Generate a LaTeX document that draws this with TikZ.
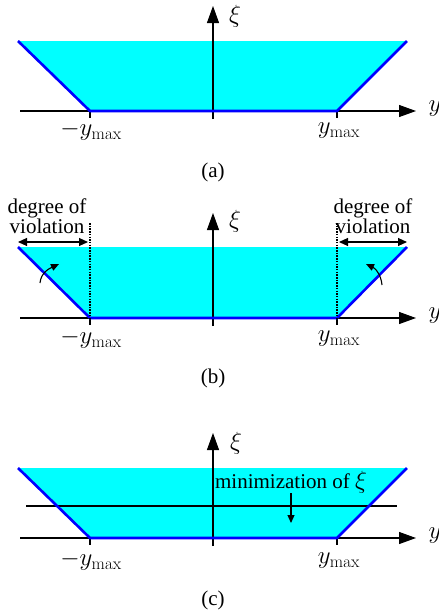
\documentclass[tikz,border=0pt]{standalone}
\usepackage[no-math]{fontspec}
\setmainfont{Liberation Serif}
\usetikzlibrary{arrows.meta}
\definecolor{aqua}{RGB}{0,255,255}
\begin{document}
\begin{tikzpicture}[x=1pt,y=-1pt,
  txt/.style={font=\fontsize{21}{17.5}\selectfont, inner sep=0pt},
  mth/.style={font=\fontsize{23.5}{20}\selectfont, inner sep=0pt},
  axis/.style={line width=1.1pt, -{Triangle[length=17pt,width=12pt]}},
  thin/.style={line width=1.1pt},
  region/.style={fill=aqua, draw=none},
  blueline/.style={draw=blue, line width=2.6pt, line join=miter},
  dots/.style={line width=2pt, dash pattern=on 1.5pt off 1.2pt},
  small/.style={line width=1.1pt, {Triangle[length=9pt,width=8pt]}-{Triangle[length=9pt,width=8pt]}},
  curv/.style={line width=1.1pt, -{Triangle[length=8pt,width=7pt]}}]
\useasboundingbox (0,0) rectangle (439,614);

% ---------- panel (a)
\begin{scope}[shift={(0,111)}]
  \coordinate (aL) at (18,-70); \coordinate (aBL) at (90,0);
  \coordinate (aBR) at (337,0); \coordinate (aR) at (407,-70);
  \coordinate (aX0) at (20,0); \coordinate (aX1) at (416,0);
  \coordinate (aY0) at (213,8); \coordinate (aY1) at (213,-105);
  \coordinate (aT1) at (90,7); \coordinate (aT2) at (337,7);
  \fill[region] (aL) -- (aBL) -- (aBR) -- (aR) -- cycle;
  \draw[axis] (aX0) -- (aX1);
  \draw[axis] (aY0) -- (aY1);
  \draw[thin] (aBL) -- (aT1);
  \draw[thin] (aBR) -- (aT2);
  \draw[blueline] (aL) -- (aBL) -- (aBR) -- (aR);
  \node[mth] (axi) at (235,-95) {$\xi$};
  \node[mth] (ay) at (435,-2) {$y$};
  \node[mth] (aml) at (91,20) {$-y_{\max}$};
  \node[mth] (amr) at (339,20) {$y_{\max}$};
  \node[txt] (acap) at (213,61) {(a)};
\end{scope}

% ---------- panel (b)
\begin{scope}[shift={(0,318)}]
  \coordinate (bL) at (18,-71); \coordinate (bBL) at (90,0);
  \coordinate (bBR) at (337,0); \coordinate (bR) at (407,-71);
  \coordinate (bX0) at (20,0); \coordinate (bX1) at (416,0);
  \coordinate (bY0) at (213,8); \coordinate (bY1) at (213,-105);
  \coordinate (bT1) at (90,7); \coordinate (bT2) at (337,7);
  \coordinate (bD1) at (90,-95); \coordinate (bD2) at (337,-95);
  \coordinate (bA1) at (18,-76); \coordinate (bA2) at (88,-76);
  \coordinate (bA3) at (339,-76); \coordinate (bA4) at (407,-76);
  \coordinate (bC1) at (40,-35); \coordinate (bC2) at (59,-54);
  \coordinate (bC3) at (382,-33); \coordinate (bC4) at (366,-54);
  \fill[region] (bL) -- (bBL) -- (bBR) -- (bR) -- cycle;
  \draw[axis] (bX0) -- (bX1);
  \draw[axis] (bY0) -- (bY1);
  \draw[thin] (bBL) -- (bT1);
  \draw[thin] (bBR) -- (bT2);
  \draw[blueline] (bL) -- (bBL) -- (bBR) -- (bR);
  \draw[dots] (bD1) -- (bBL);
  \draw[dots] (bD2) -- (bBR);
  \draw[small] (bA1) -- (bA2);
  \draw[small] (bA3) -- (bA4);
  \draw[curv] (bC1) to[out=85,in=205] (bC2);
  \draw[curv] (bC3) to[out=95,in=-25] (bC4);
  \node[txt, align=center] (bdl) at (47,-102) {degree of\\violation};
  \node[txt, align=center] (bdr) at (373,-102) {degree of\\violation};
  \node[mth] (bxi) at (235,-97) {$\xi$};
  \node[mth] (by) at (435,-2) {$y$};
  \node[mth] (bml) at (91,21) {$-y_{\max}$};
  \node[mth] (bmr) at (339,21) {$y_{\max}$};
  \node[txt] (bcap) at (213,60) {(b)};
\end{scope}

% ---------- panel (c)
\begin{scope}[shift={(0,538)}]
  \coordinate (cL) at (18,-70); \coordinate (cBL) at (90,0);
  \coordinate (cBR) at (337,0); \coordinate (cR) at (407,-70);
  \coordinate (cX0) at (20,0); \coordinate (cX1) at (416,0);
  \coordinate (cY0) at (213,8); \coordinate (cY1) at (213,-105);
  \coordinate (cT1) at (90,7); \coordinate (cT2) at (337,7);
  \coordinate (cH0) at (26,-32); \coordinate (cH1) at (397,-32);
  \coordinate (cM0) at (291,-45); \coordinate (cM1) at (291,-15);
  \fill[region] (cL) -- (cBL) -- (cBR) -- (cR) -- cycle;
  \draw[axis] (cX0) -- (cX1);
  \draw[axis] (cY0) -- (cY1);
  \draw[thin] (cBL) -- (cT1);
  \draw[thin] (cBR) -- (cT2);
  \draw[thin] (cH0) -- (cH1);
  \draw[blueline] (cL) -- (cBL) -- (cBR) -- (cR);
  \draw[curv] (cM0) -- (cM1);
  \node[txt] (cmin) at (291,-56) {minimization of \fontsize{23.5}{20}\selectfont$\xi$};
  \node[mth] (cxi) at (236,-95) {$\xi$};
  \node[mth] (cy) at (435,-2) {$y$};
  \node[mth] (cml) at (91,23) {$-y_{\max}$};
  \node[mth] (cmr) at (339,23) {$y_{\max}$};
  \node[txt] (ccap) at (213,62) {(c)};
\end{scope}
\end{tikzpicture}
\end{document}
